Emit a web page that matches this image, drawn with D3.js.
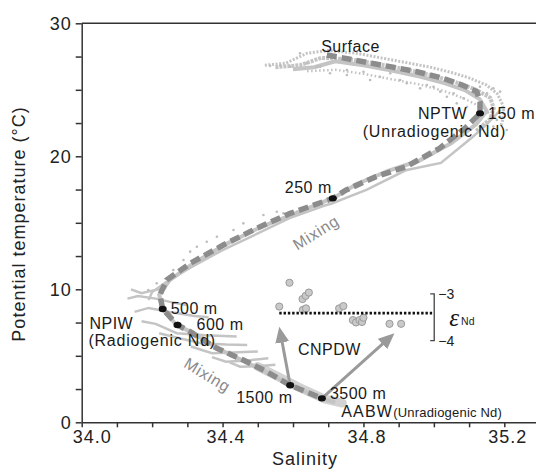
<!DOCTYPE html>
<html>
<head>
<meta charset="utf-8">
<script src="https://cdn.jsdelivr.net/npm/d3@7"></script>
<style>
  html, body { margin: 0; padding: 0; background: #fff; }
  svg { display: block; font-family: "Liberation Sans", Arial, sans-serif; }
  .axis path, .axis line { stroke: #333; stroke-width: 1.5; }
  .axis text { font-size: 18px; fill: #222; letter-spacing: 1px; }
  .note { font-size: 16px; fill: #1a1a1a; letter-spacing: 0.5px; }
  .mix { font-size: 16px; fill: #8a8a8a; letter-spacing: 0.8px; }
</style>
</head>
<body>
<svg id="chart" width="536" height="475"></svg>
<script>

// mean T-S path (salinity, potential temperature), drawn dashed
var meanProfile = [
  [34.696, 27.62], [34.724, 27.49], [34.800, 27.11], [34.876, 26.74], [34.952, 26.36],
  [35.027, 25.86], [35.080, 25.36], [35.122, 24.86], [35.131, 24.11], [35.131, 23.23],
  [35.092, 22.20], [35.016, 20.60], [34.921, 19.22], [34.836, 18.47], [34.751, 17.47],
  [34.713, 16.84], [34.592, 15.71], [34.497, 14.59], [34.402, 13.33], [34.308, 11.95],
  [34.241, 10.70], [34.222, 9.57], [34.230, 8.52], [34.272, 7.32], [34.308, 6.81],
  [34.384, 5.56], [34.459, 4.68], [34.526, 3.80], [34.592, 2.79], [34.682, 1.80]
];

// station profiles making up the grey cloud
var stationA = [
  [34.52, 26.85], [34.58, 27.00], [34.64, 27.75], [34.70, 27.95], [34.78, 27.75],
  [34.85, 27.40], [34.92, 27.05], [34.99, 26.70], [35.05, 26.30], [35.10, 25.90],
  [35.15, 25.35], [35.18, 24.70], [35.195, 23.90], [35.20, 23.10], [35.19, 22.30]
];
var stationB = [
  [34.55, 26.70], [34.62, 26.85], [34.68, 27.40], [34.76, 27.30], [34.84, 26.95],
  [34.92, 26.55], [35.00, 26.05], [35.07, 25.50], [35.12, 25.00], [35.16, 24.40],
  [35.17, 23.60], [35.16, 22.80], [35.12, 21.90]
];
var stationC = [
  [34.60, 26.55], [34.66, 26.70], [34.72, 27.15], [34.80, 26.85], [34.88, 26.45],
  [34.96, 26.00], [35.03, 25.50], [35.09, 24.95], [35.13, 24.30], [35.15, 23.40],
  [35.12, 22.40], [35.05, 21.00], [34.96, 19.70], [34.87, 18.90], [34.78, 17.90],
  [34.72, 16.95], [34.62, 15.85], [34.51, 14.70], [34.41, 13.40], [34.32, 12.00],
  [34.25, 10.70], [34.22, 9.60], [34.23, 8.50], [34.27, 7.30], [34.31, 6.80],
  [34.39, 5.50], [34.46, 4.60], [34.53, 3.70], [34.60, 2.70], [34.69, 1.70], [34.72, 1.50]
];
var stationD = [
  [35.19, 23.50], [35.15, 22.40], [35.11, 21.45], [35.02, 19.50], [34.92, 18.95],
  [34.81, 17.50], [34.71, 16.45], [34.69, 16.30], [34.59, 15.35], [34.50, 14.20],
  [34.40, 12.95], [34.31, 11.65], [34.24, 10.55], [34.20, 9.80], [34.19, 9.20]
];
var stationE = [
  [34.64, 26.40], [34.72, 26.50], [34.80, 26.20], [34.88, 25.80], [34.96, 25.40],
  [35.03, 24.90], [35.09, 24.30], [35.14, 23.60], [35.17, 22.90]
];
var deepSmear = [[34.50, 4.20], [34.56, 3.40], [34.62, 2.60], [34.69, 1.75], [34.74, 1.45]];

// intermediate-water streaks near NPIW
var streaks = [
  [[34.14, 10.0], [34.17, 9.7], [34.20, 9.9], [34.24, 10.1]],
  [[34.13, 9.3], [34.16, 9.5], [34.21, 9.3], [34.26, 9.0], [34.30, 8.8]],
  [[34.15, 8.3], [34.19, 8.6], [34.25, 8.3], [34.32, 8.0], [34.36, 7.9]],
  [[34.17, 7.6], [34.21, 7.4], [34.27, 6.7], [34.35, 6.55], [34.44, 6.45]],
  [[34.22, 6.7], [34.28, 6.3], [34.34, 5.95], [34.41, 5.85], [34.47, 5.82]],
  [[34.31, 5.7], [34.37, 5.2], [34.43, 5.25], [34.50, 5.32]],
  [[34.37, 4.9], [34.41, 4.55], [34.47, 4.65], [34.53, 4.82]],
  [[34.42, 4.5], [34.45, 4.18], [34.50, 4.22], [34.55, 4.32]]
];

// loose CTD points
var looseSal = [34.535, 34.564, 34.592, 34.620, 34.639, 34.668, 34.705, 34.753, 34.800, 34.847,
  34.904, 34.961, 34.980, 35.018, 35.037, 35.056, 35.084, 35.151, 35.169, 35.188,
  35.207, 35.179, 35.198, 35.17, 34.516, 34.554, 34.459, 34.431, 34.384, 34.355,
  34.327, 34.308, 34.289, 34.260, 34.213, 34.189, 34.611, 34.573,
  34.677, 34.753, 34.819, 34.876, 34.923, 34.999, 35.065, 35.094, 35.113, 35.131,
  35.188, 35.169];
var looseTemp = [26.80, 26.85, 26.74, 27.74, 26.99, 26.74, 26.24, 26.11, 26.36, 25.98,
  25.74, 25.11, 25.36, 24.86, 24.48, 24.74, 24.36, 24.74, 25.11, 24.86,
  21.98, 22.73, 23.48, 22.90, 15.59, 15.83, 14.96, 14.46, 13.95, 13.58,
  13.20, 12.83, 12.20, 11.45, 10.45, 9.95, 15.83, 15.71,
  26.74, 26.49, 25.74, 26.24, 25.49, 25.23, 23.98, 23.73, 24.74, 25.23,
  22.98, 22.23];

// depth markers
var depthNames = ['150 m', '250 m', '500 m', '600 m', '1500 m', '3500 m'];
var depthSal = [35.131, 34.713, 34.230, 34.272, 34.592, 34.682];
var depthTemp = [23.23, 16.84, 8.52, 7.32, 2.79, 1.80];

// CNPDW eNd values plotted against salinity
var cnpdwSal = [34.561, 34.590, 34.627, 34.636, 34.645, 34.628, 34.637, 34.731,
  34.743, 34.770, 34.779, 34.789, 34.796, 34.800, 34.874, 34.907];
var cnpdwNd = [-3.27, -2.76, -3.11, -3.04, -2.97, -3.34, -3.31, -3.31,
  -3.26, -3.56, -3.61, -3.56, -3.60, -3.51, -3.64, -3.64];
var cnpdwMean = -3.41;
var ndTicks = [-3, -4];

var svg = d3.select('#chart');

var x = d3.scaleLinear().domain([34.0, 35.29]).range([81.7, 536]);
var y = d3.scaleLinear().domain([0, 30]).range([422.3, 23.3]);
// small eNd scale sharing the plot (bracket on the right)
var yNd = d3.scaleLinear().domain([-3, -4]).range([y(9.65), y(6.14)]);

var line = d3.line()
    .x(function (d) { return x(d[0]); })
    .y(function (d) { return y(d[1]); });

// ---- axes
var xTicks = d3.range(0, 13).map(function (i) { return 34 + i * 0.1; });
var xAxis = d3.axisBottom(x)
    .tickValues(xTicks)
    .tickSize(5).tickSizeOuter(0).tickPadding(3)
    .tickFormat(function (d, i) { return i % 4 === 0 ? d3.format('.1f')(d) : ''; });
var gx = svg.append('g').attr('class', 'axis')
    .attr('transform', 'translate(0,' + y(0) + ')')
    .call(xAxis);
gx.selectAll('text').attr('dx', function (d, i) { return i === 0 ? 10 : 3; });

var yTicks = d3.range(0, 13).map(function (i) { return i * 2.5; });
var yAxis = d3.axisLeft(y)
    .tickValues(yTicks)
    .tickSize(6).tickSizeOuter(0).tickPadding(4)
    .tickFormat(function (d) { return d % 10 === 0 ? d : ''; });
svg.append('g').attr('class', 'axis')
    .attr('transform', 'translate(' + x(34) + ',0)')
    .call(yAxis);

svg.append('line')
    .attr('x1', x(34)).attr('x2', x.range()[1])
    .attr('y1', y(30)).attr('y2', y(30))
    .attr('stroke', '#333').attr('stroke-width', 1.5);

svg.append('text')
    .attr('x', 305).attr('y', 465)
    .attr('text-anchor', 'middle')
    .style('font-size', '18px').style('letter-spacing', '1px').attr('fill', '#222')
    .text('Salinity');

svg.append('text')
    .attr('transform', 'translate(25,224) rotate(-90)')
    .attr('text-anchor', 'middle')
    .style('font-size', '18px').style('letter-spacing', '1px').attr('fill', '#222')
    .text('Potential temperature (°C)');

// ---- grey cloud
var cloud = svg.append('g').attr('fill', 'none').attr('stroke', '#c4c4c4');

cloud.append('path').datum(deepSmear).attr('d', line)
    .attr('stroke', '#d2d2d2').attr('stroke-width', 9).attr('stroke-linecap', 'round');
cloud.append('path').datum(stationA).attr('d', line)
    .attr('stroke-width', 3).attr('stroke-dasharray', '2 1.6');
cloud.append('path').datum(stationB).attr('d', line)
    .attr('stroke-width', 4).attr('stroke-dasharray', '3 1');
cloud.append('path').datum(stationE).attr('d', line)
    .attr('stroke-width', 2.5).attr('stroke-dasharray', '1.6 2.4');
cloud.append('path').datum(stationC).attr('d', line)
    .attr('stroke-width', 4);
cloud.append('path').datum(stationD).attr('d', line)
    .attr('stroke-width', 2.5);
cloud.selectAll('.streak').data(streaks).enter().append('path')
    .attr('class', 'streak')
    .attr('d', line)
    .attr('stroke-width', 2.5);

svg.append('g').selectAll('circle').data(looseSal).enter().append('circle')
    .attr('cx', function (d) { return x(d); })
    .attr('cy', function (d, i) { return y(looseTemp[i]); })
    .attr('r', 1.3)
    .attr('fill', '#bdbdbd');

// ---- mean path
svg.append('path').datum(meanProfile)
    .attr('d', line)
    .attr('fill', 'none')
    .attr('stroke', '#8c8c8c')
    .attr('stroke-width', 5.5)
    .attr('stroke-dasharray', '10 5');

// ---- CNPDW eNd
svg.append('g').selectAll('circle').data(cnpdwSal).enter().append('circle')
    .attr('cx', function (d) { return x(d); })
    .attr('cy', function (d, i) { return yNd(cnpdwNd[i]); })
    .attr('r', 3.6)
    .attr('fill', '#c9c9c9')
    .attr('stroke', '#9a9a9a')
    .attr('stroke-width', 1);

svg.append('line')
    .attr('x1', x(34.561)).attr('x2', x(34.995))
    .attr('y1', yNd(cnpdwMean)).attr('y2', yNd(cnpdwMean))
    .attr('stroke', '#111').attr('stroke-width', 2.6)
    .attr('stroke-dasharray', '2.4 1.9');

// bracket scale
var bx = x(35.001);
svg.append('path')
    .attr('d', 'M' + (bx - 4) + ',' + yNd(-3) + 'H' + bx + 'V' + yNd(-4) + 'H' + (bx - 4))
    .attr('fill', 'none').attr('stroke', '#444').attr('stroke-width', 1.3);
svg.selectAll('.ndtick').data(ndTicks).enter().append('text')
    .attr('class', 'ndtick')
    .attr('x', bx + 4)
    .attr('y', function (d) { return yNd(d) + 5; })
    .style('font-size', '14px').attr('fill', '#222')
    .text(function (d) { return '\u2212' + Math.abs(d); });
var eps = svg.append('text')
    .attr('x', bx + 15).attr('y', yNd(cnpdwMean) + 13);
eps.append('tspan')
    .style('font-family', '"Liberation Serif", "DejaVu Serif", serif')
    .style('font-style', 'italic').style('font-size', '25px').attr('fill', '#111')
    .text('\u03b5');
eps.append('tspan')
    .attr('dx', 2).attr('dy', -1)
    .style('font-size', '10.5px').attr('fill', '#222')
    .text('Nd');

// arrows from deep water points up to the eNd data
var defs = svg.append('defs');
defs.append('marker')
    .attr('id', 'head')
    .attr('markerUnits', 'userSpaceOnUse')
    .attr('viewBox', '0 0 16 14')
    .attr('refX', 8).attr('refY', 7)
    .attr('markerWidth', 16).attr('markerHeight', 14)
    .attr('orient', 'auto')
    .append('path').attr('d', 'M0,0L16,7L0,14Z').attr('fill', '#9a9a9a');

var arrowFrom = [[34.592, 2.79], [34.682, 1.80]];
var arrowTo = [[34.561, 7.19], [34.888, 6.69]];
arrowFrom.forEach(function (p, i) {
    var x1 = x(p[0]), y1 = y(p[1]);
    var x2 = x(arrowTo[i][0]), y2 = y(arrowTo[i][1]);
    var len = Math.sqrt((x2 - x1) * (x2 - x1) + (y2 - y1) * (y2 - y1));
    var k = (len - 8) / len;
    svg.append('line')
        .attr('x1', x1).attr('y1', y1)
        .attr('x2', x1 + (x2 - x1) * k).attr('y2', y1 + (y2 - y1) * k)
        .attr('stroke', '#9a9a9a').attr('stroke-width', 3)
        .attr('marker-end', 'url(#head)');
});

// depth markers
svg.append('g').selectAll('ellipse').data(depthSal).enter().append('ellipse')
    .attr('cx', function (d) { return x(d); })
    .attr('cy', function (d, i) { return y(depthTemp[i]); })
    .attr('rx', 4).attr('ry', 3.2)
    .attr('fill', '#111');

// ---- labels
var notes = [
    {text: 'Surface', s: 34.680, t: 27.84},
    {text: 'NPTW', s: 34.955, t: 22.78},
    {text: '(Unradiogenic Nd)', s: 34.798, t: 21.45, ls: 0.8},
    {text: 'NPIW', s: 34.022, t: 7.02},
    {text: '(Radiogenic Nd)', s: 34.019, t: 5.76, ls: 0.8},
    {text: 'CNPDW', s: 34.614, t: 5.06}
];
svg.selectAll('.note').data(notes).enter().append('text')
    .attr('class', 'note')
    .attr('x', function (d) { return x(d.s); })
    .attr('y', function (d) { return y(d.t); })
    .style('letter-spacing', function (d) { return (d.ls || 0.5) + 'px'; })
    .text(function (d) { return d.text; });

// depth names placed beside their marker
var depthDx = [8, -48, 8, 19, -54, 8];
var depthDy = [6, -5, 5, 5, 18, 1];
svg.selectAll('.depth').data(depthNames).enter().append('text')
    .attr('class', 'note')
    .attr('x', function (d, i) { return x(depthSal[i]) + depthDx[i]; })
    .attr('y', function (d, i) { return y(depthTemp[i]) + depthDy[i]; })
    .text(function (d) { return d; });

var aabw = svg.append('text').attr('class', 'note')
    .attr('x', x(34.737)).attr('y', y(0.42));
aabw.append('tspan').style('letter-spacing', '1.2px').text('AABW');
aabw.append('tspan').style('font-size', '13px').style('letter-spacing', '0.2px').text('(Unradiogenic Nd)');

svg.append('text').attr('class', 'mix')
    .attr('text-anchor', 'middle')
    .attr('transform', 'translate(' + x(34.665) + ',' + y(14.27) + ') rotate(-32)')
    .attr('dy', '0.35em')
    .text('Mixing');
svg.append('text').attr('class', 'mix')
    .attr('text-anchor', 'middle')
    .attr('transform', 'translate(' + x(34.357) + ',' + y(3.56) + ') rotate(31)')
    .attr('dy', '0.35em')
    .text('Mixing');

</script>
</body>
</html>
